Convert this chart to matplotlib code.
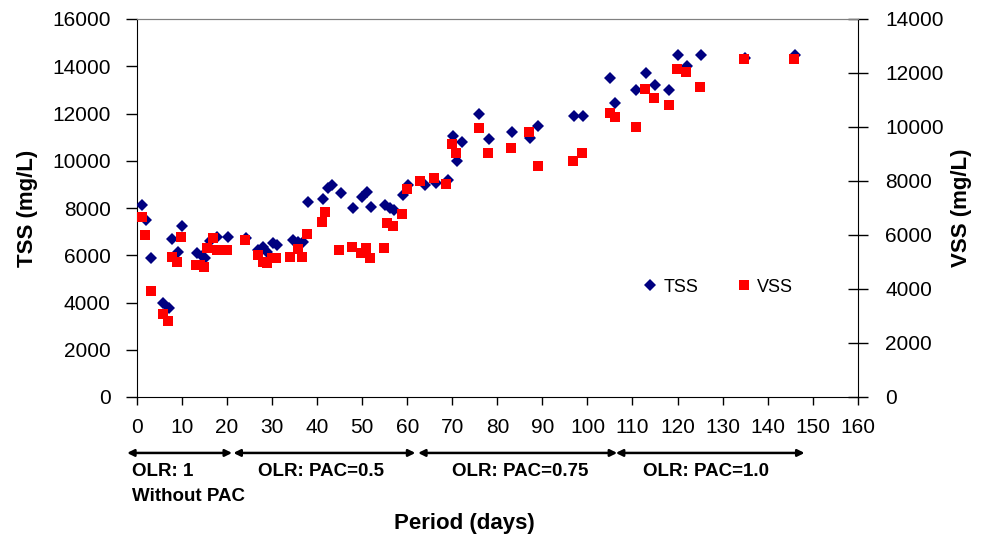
import matplotlib
matplotlib.use("Agg")
import matplotlib.pyplot as plt
from matplotlib.lines import Line2D

plt.rcParams.update({"font.family": ["Liberation Sans", "DejaVu Sans"], "font.size": 15})

# TSS (left axis, mg/L) vs day
tss_day = [1.2, 1.9, 3.1, 5.8, 7.2, 7.7, 9.2, 9.9, 13.3, 14.4, 15.1, 16.2, 17.8, 20.1,
           24.1, 26.9, 28.0, 28.8, 30.3, 31.0, 34.7, 35.8, 36.9, 38.0, 41.2, 42.3, 43.2,
           45.2, 47.9, 49.9, 51.0, 51.9, 55.1, 56.2, 57.1, 59.1, 60.2, 63.9, 66.3, 69.1,
           70.1, 71.0, 72.2, 76.0, 78.1, 83.3, 87.3, 89.1, 97.1, 99.1, 105.0, 106.1,
           110.8, 112.9, 115.0, 118.0, 120.0, 122.0, 125.2, 135.0, 146.1]
tss = [8127, 7490, 5900, 3970, 3750, 6680, 6150, 7240, 6080, 5970, 5870, 6600, 6790, 6760,
       6720, 6220, 6360, 6150, 6500, 6430, 6650, 6580, 6580, 8270, 8400, 8850, 8990,
       8620, 7990, 8480, 8690, 8060, 8130, 7990, 7915, 8530, 8970, 8970, 9040, 9185,
       11050, 10000, 10780, 11980, 10920, 11200, 10945, 11485, 11890, 11890, 13490, 12460,
       13000, 13700, 13200, 13000, 14480, 14010, 14480, 14340, 14480]

# VSS (right axis, mg/L) vs day
vss_day = [1.0, 1.8, 3.0, 5.7, 6.9, 7.7, 8.9, 9.7, 13.0, 14.0, 14.9, 15.6, 16.8, 17.7,
           19.9, 24.0, 26.8, 27.9, 28.8, 29.9, 30.9, 34.0, 35.8, 36.6, 37.7, 41.0, 41.7,
           44.9, 47.7, 49.7, 50.8, 51.7, 54.8, 55.6, 56.9, 58.8, 59.9, 62.8, 66.0, 68.7,
           69.9, 70.8, 75.9, 77.9, 83.0, 87.0, 89.0, 96.9, 98.9, 104.9, 106.1, 110.8,
           112.8, 114.8, 118.0, 119.8, 121.9, 125.0, 134.8, 145.9]
vss = [6656, 6000, 3926, 3074, 2826, 5196, 5011, 5937, 4889, 4889, 4826, 5507, 5878, 5444,
       5444, 5815, 5259, 5011, 4952, 5137, 5137, 5196, 5470, 5196, 6037, 6470, 6841,
       5444, 5567, 5322, 5507, 5137, 5507, 6433, 6344, 6778, 7693, 8011, 8122, 7880,
       9359, 9048, 9952, 9048, 9211, 9826, 8556, 8741, 9048, 10507, 10382, 10011,
       11407, 11063, 10815, 12148, 12026, 11470, 12507, 12507]

# operating phases below the axis
phase_start = [-2.2, 21.4, 62.4, 106.3]
phase_end = [21.1, 61.8, 106.6, 148.2]
phase_text_x = [-1.0, 26.9, 69.9, 112.3]
phase_labels = ["OLR: 1", "OLR: PAC=0.5", "OLR: PAC=0.75", "OLR: PAC=1.0"]

TSS_C, VSS_C = "#000080", "#ff0000"
D_MS, S_MS = 6.3, 6.9

fig = plt.figure(figsize=(9.81, 5.38), dpi=100)
ax = fig.add_axes([137 / 981, 1 - 397 / 538, 720.7 / 981, 378 / 538])
ax2 = ax.twinx()

ax.plot(tss_day, tss, "D", ms=D_MS, color=TSS_C, mew=0, zorder=3)
ax2.plot(vss_day, vss, "s", ms=S_MS, color=VSS_C, mew=0, zorder=3)

ax.set_xlim(0, 160); ax.set_xticks(range(0, 161, 10))
ax.set_ylim(0, 16000); ax.set_yticks(range(0, 16001, 2000))
ax2.set_ylim(0, 14000); ax2.set_yticks(range(0, 14001, 2000))

ax.tick_params(axis="x", direction="out", length=6, width=1, pad=9)
ax.tick_params(axis="y", direction="out", length=8, width=1, pad=11)
ax2.tick_params(axis="y", direction="inout", length=14, width=1, pad=13)

for a in (ax, ax2):
    a.spines["top"].set_color("#808080")
    a.spines["left"].set_visible(a is ax)
    a.spines["right"].set_visible(a is ax2)
    a.spines["bottom"].set_visible(a is ax)

# phase arrows and labels
for s, e in zip(phase_start, phase_end):
    ax.annotate("", xy=(e, -0.148), xytext=(s, -0.148),
                xycoords=("data", "axes fraction"), textcoords=("data", "axes fraction"),
                arrowprops=dict(arrowstyle="<|-|>", mutation_scale=10, lw=1.8,
                                color="black", shrinkA=0, shrinkB=0),
                annotation_clip=False)
for x, t in zip(phase_text_x, phase_labels):
    ax.text(x, -0.198, t, transform=ax.get_xaxis_transform(), fontsize=13.5,
            fontweight="bold", ha="left", va="center")
ax.text(phase_text_x[0], -0.262, "Without PAC", transform=ax.get_xaxis_transform(),
        fontsize=13.5, fontweight="bold", ha="left", va="center")

fig.text(464 / 981, 1 - 524 / 538, "Period (days)", fontsize=16, fontweight="bold",
         ha="center", va="center")
fig.text(28 / 981, 1 - 208 / 538, "TSS (mg/L)", fontsize=16, fontweight="bold",
         rotation=90, ha="center", va="center")
fig.text(961 / 981, 1 - 208 / 538, "VSS (mg/L)", fontsize=16, fontweight="bold",
         rotation=90, ha="center", va="center")

handles = [Line2D([], [], ls="", marker="D", ms=D_MS, color=TSS_C, mew=0, label="TSS"),
           Line2D([], [], ls="", marker="s", ms=S_MS, color=VSS_C, mew=0, label="VSS")]
fig.legend(handles=handles, loc="center left", bbox_to_anchor=(641 / 981, 1 - 287 / 538),
           ncol=2, frameon=False, fontsize=13, handlelength=1.0, handletextpad=0.25,
           columnspacing=2.0, borderpad=0, borderaxespad=0)

fig.savefig("out.png", dpi=100)
